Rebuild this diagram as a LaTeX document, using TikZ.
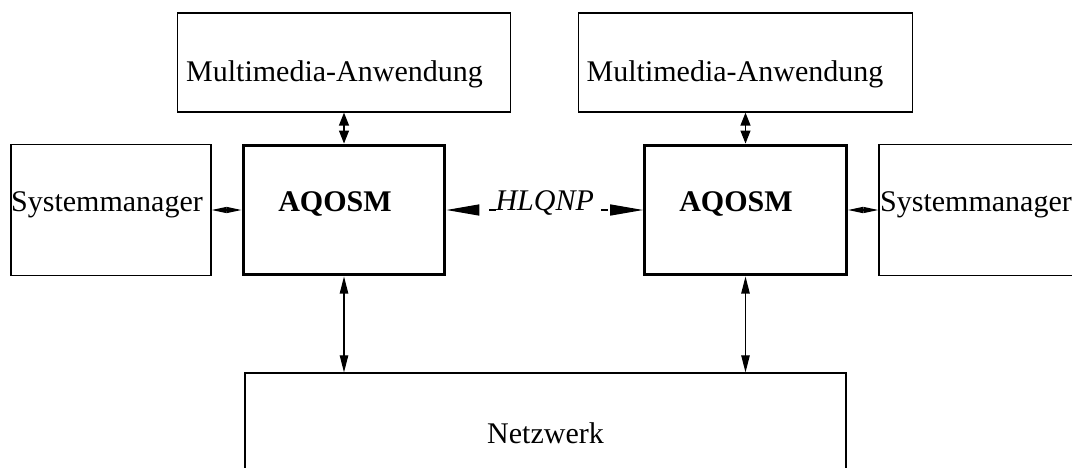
\documentclass[tikz,border=0pt]{standalone}
\usepackage{fontspec}
\setmainfont{Liberation Serif}
\usetikzlibrary{arrows.meta}

\begin{document}
\begin{tikzpicture}[x=0.3333pt, y=-0.3333pt,
    box/.style={draw, line width=0.4pt, inner sep=0pt},
    qbox/.style={draw, line width=1pt, inner sep=0pt, minimum width=67.3pt, minimum height=43.3pt},
    txt/.style={anchor=base, inner sep=0pt},
    link/.style={line width=0.4pt, {Triangle[length=4.3pt,width=3.3pt]}-{Triangle[length=4.3pt,width=3.3pt]}},
    slink/.style={line width=0.4pt, {Triangle[length=5pt,width=2pt]}-{Triangle[length=5pt,width=2pt]}},
    nlink/.style={line width=0.4pt, {Triangle[length=5.7pt,width=2.8pt]}-{Triangle[length=5.7pt,width=2.8pt]}},
    biglink/.style={line width=0.4pt, dash pattern=on 2.33pt off 35pt, dash phase=34pt,
      {Triangle[length=11pt,width=3.7pt]}-{Triangle[length=11pt,width=3.7pt]}}]
    \clip (0,0) rectangle (1072,467);
    % Boxes
    \node[box, minimum width=111pt, minimum height=33pt] (MA1) at (344,62.5) {};
    \node[box, minimum width=111.3pt, minimum height=33pt] (MA2) at (745.5,62.5) {};
    \node[box, minimum width=66.7pt, minimum height=43.7pt] (S1) at (111,210) {};
    \node[box, minimum width=73.7pt, minimum height=43.7pt] (S2) at (989.5,210) {};
    \node[qbox] (Q1) at (344,210) {};
    \node[qbox] (Q2) at (745.5,210) {};
    \node[box, minimum width=200.3pt, minimum height=42.3pt] (N) at (545.5,436.5) {};
    % Texts
    \node[txt] (T1) at (334.5,81) {Multimedia-Anwendung};
    \node[txt] (T2) at (735,81) {Multimedia-Anwendung};
    \node[txt] (T3) at (107,211) {Systemmanager};
    \node[txt] (T4) at (976,211) {Systemmanager};
    \node[txt, font=\bfseries] (T5) at (335,211) {AQOSM};
    \node[txt, font=\bfseries] (T6) at (736,211) {AQOSM};
    \node[txt] (T7) at (545.5,443) {Netzwerk};
    % Draw connectors
    \draw[link] (MA1) -- (Q1);
    \draw[link] (MA2) -- (Q2);
    \draw[slink] (S1) -- (Q1);
    \draw[slink] (Q2) -- (S2);
    \draw[nlink] (Q1) -- (Q1 |- N.north);
    \draw[nlink] (Q2) -- (Q2 |- N.north);
    \draw[biglink] (Q1) -- node[txt, font=\itshape] (H) {HLQNP} (Q2);
\end{tikzpicture}
\end{document}
